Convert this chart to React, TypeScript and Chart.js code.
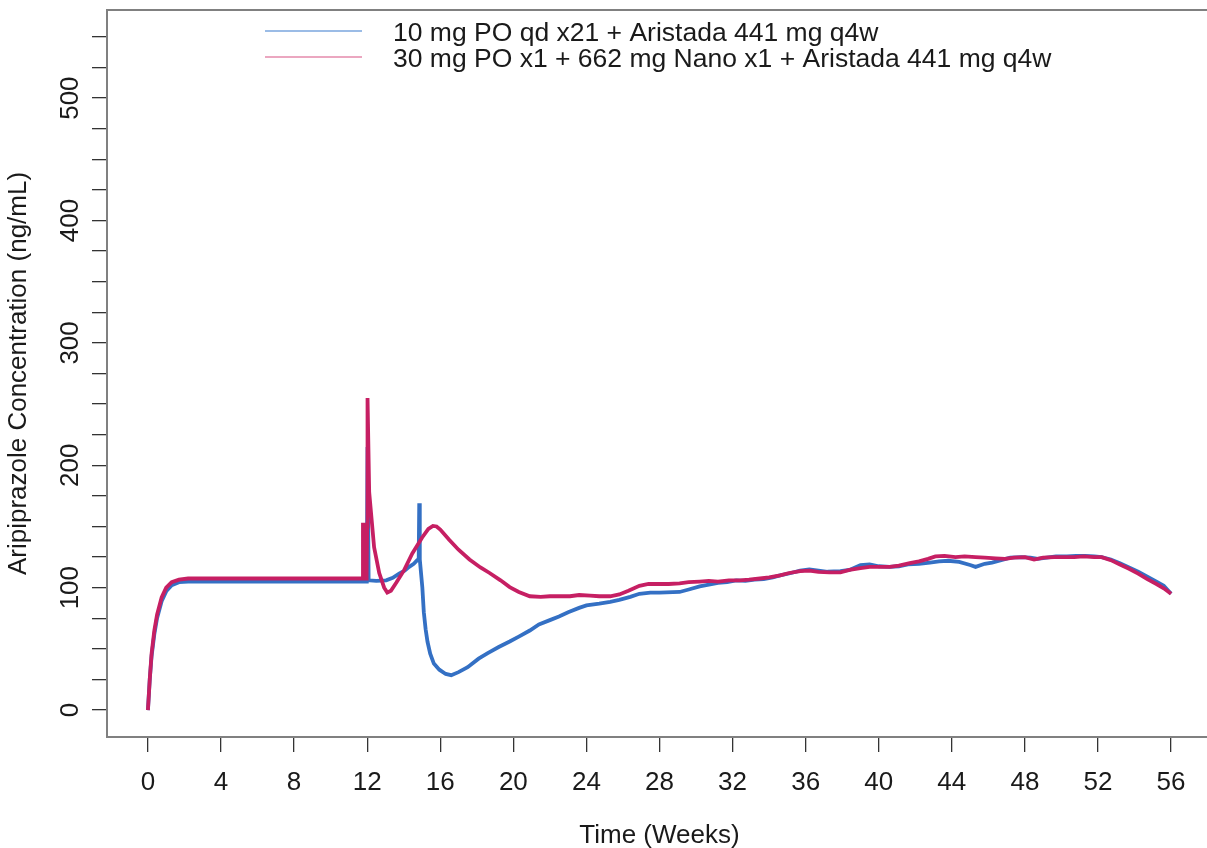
import React, { useEffect, useRef } from 'react';
import { Chart, registerables } from 'chart.js';

Chart.register(...registerables);

// ---- Data (weeks / ng/mL) ----
const weeksBlue = [
  0, 0.1, 0.2, 0.35, 0.5, 0.75, 1.0, 1.3, 1.7, 2.2, 4, 8, 11.98, 12.02, 12.08, 12.5, 13.04, 13.4, 13.75, 14.05,
  14.3, 14.55, 14.74, 14.82, 14.85, 14.88, 15.02, 15.1, 15.2, 15.3, 15.45, 15.65, 15.95, 16.3, 16.6, 17.0,
  17.5, 18.1, 18.6, 19.2, 19.8, 20.3, 20.9, 21.4, 22.0, 22.5, 23.0, 23.6, 24.0, 24.7, 25.3, 25.8, 26.4, 26.9,
  27.5, 28.0, 29.1, 29.6, 30.2, 30.7, 31.2, 31.7, 32.2, 32.7, 33.2, 33.7, 34.2, 34.6, 35.2, 35.7, 36.2,
  36.7, 37.2, 37.9, 38.4, 39.0, 39.5, 40.0, 40.6, 41.1, 41.6, 42.2, 42.8, 43.3, 43.8, 44.4, 45.0, 45.3,
  45.8, 46.2, 46.7, 47.2, 47.8, 48.3, 48.7, 49.2, 49.7, 50.3, 50.8, 51.3, 51.8, 52.2, 52.7, 53.2, 53.7,
  54.2, 54.7, 55.2, 55.6, 56.0,
];
const concBlue = [
  0, 25, 44, 62, 75, 89, 97, 102, 104.5, 105, 105, 105, 105, 215, 106, 105.5, 106, 108, 111.5, 114,
  117, 119.5, 122.5, 123.5, 169, 123, 100, 80, 66, 56, 46, 38, 33, 29.5, 28.5, 31,
  35, 42, 46.5, 51.5, 56, 60, 65, 70, 73.5, 76.5, 80, 83.5, 85.5, 87, 88.5, 90, 92.5, 95,
  96, 96, 96.5, 98.5, 101, 102.5, 104, 104.5, 106, 105.5, 106.5, 107, 108.5, 110, 112, 114, 115,
  114, 113, 113.5, 114.5, 118.5, 119, 117.5, 117, 117.5, 119, 119.5, 120.5, 121.5, 122, 121, 118.5, 117,
  119.5, 120.5, 122.5, 124.5, 125, 124.5, 123.5, 124.5, 125.5, 125.5, 126, 126, 125.5, 125, 123, 120, 116.5,
  113, 109, 105, 101.5, 95,
];

const weeksRed = [
  0, 0.1, 0.2, 0.35, 0.5, 0.75, 1.0, 1.3, 1.7, 2.2, 4, 8, 11.75, 11.77, 11.79, 11.82, 11.84, 11.87, 11.89,
  11.92, 11.94, 11.96, 11.98, 12.0, 12.02, 12.11, 12.38, 12.66, 12.93, 13.1, 13.3, 13.59, 14.03, 14.47,
  15.01, 15.35, 15.6, 15.8, 16.0, 16.5, 17.0, 17.6, 18.2, 18.7, 19.3, 19.8, 20.3, 20.9, 21.5, 22.0, 22.6,
  23.1, 23.6, 24.2, 24.7, 25.3, 25.8, 26.3, 26.9, 27.4, 28.0, 28.5, 29.1, 29.6, 30.2, 30.7, 31.2, 31.8,
  32.4, 32.9, 33.5, 34.0, 34.6, 35.1, 35.7, 36.2, 36.7, 37.3, 37.9, 38.4, 39.0, 39.5, 40.0, 40.6, 41.1,
  41.7, 42.2, 42.7, 43.1, 43.6, 44.2, 44.7, 45.3, 45.8, 46.4, 46.9, 47.4, 48.0, 48.5, 49.0, 49.6, 50.1,
  50.7, 51.2, 51.8, 52.2, 52.7, 53.2, 53.7, 54.2, 54.7, 55.2, 55.6, 56.0,
];
const concRed = [
  0, 25, 46, 65, 78, 92, 100, 104.5, 106.5, 107.5, 107.5, 107.5, 107.5, 153, 107.5, 153, 107.5, 153, 107.5,
  153, 107.5, 153, 110, 150, 255, 178, 133, 112, 100, 96, 97.5, 104, 114.5, 128,
  141, 148, 150.5, 150, 147.5, 139, 131, 123, 116.5, 112, 106, 100.5, 96.5, 93, 92.5, 93, 93,
  93, 94, 93.5, 93, 93, 94.5, 97.5, 101.5, 103, 103, 103, 103.5, 104.5, 105, 105.5, 105, 106,
  106, 106.5, 107.5, 108.5, 110, 112, 113.5, 114, 113, 112.5, 112.5, 114.5, 116, 117, 117, 117, 118,
  120, 121.5, 123.5, 125.5, 126, 125, 125.5, 125, 124.5, 124, 123.5, 124.5, 125, 123, 124.5, 125, 125,
  125, 125.5, 125, 125, 122.5, 119, 115.5, 111.5, 107, 103, 99.5, 95,
];

const seriesLabels = [
  '10 mg PO qd x21 + Aristada 441 mg q4w',
  '30 mg PO x1 + 662 mg Nano x1 + Aristada 441 mg q4w',
];
const seriesColors = ['#3470c4', '#c61f63'];
const legendColors = ['#7aa6de', '#e58aab'];
const xTickStep = 4;
const yTickStep = 25;
const yLabelValues = [0, 100, 200, 300, 400, 500];
const xTitle = 'Time (Weeks)';
const yTitle = 'Aripiprazole Concentration (ng/mL)';

const FONT = '"Liberation Sans", Arial, sans-serif';
const FS = 26;
const TEXT = '#1a1a1a';

export default function App() {
  const ref = useRef<HTMLCanvasElement | null>(null);

  useEffect(() => {
    const canvas = ref.current;
    if (!canvas) return;

    const boxAndLabels = {
      id: 'boxAndLabels',
      afterDraw(chart: any) {
        const { ctx, chartArea } = chart;
        const ys = chart.scales.y;
        ctx.save();
        // plot box
        ctx.strokeStyle = '#808080';
        ctx.lineWidth = 2;
        ctx.strokeRect(chartArea.left, chartArea.top, chartArea.right - chartArea.left, chartArea.bottom - chartArea.top);
        // rotated y tick labels
        ctx.fillStyle = TEXT;
        ctx.font = `${FS}px ${FONT}`;
        ctx.textAlign = 'center';
        ctx.textBaseline = 'middle';
        for (const v of yLabelValues) {
          const py = ys.getPixelForValue(v);
          ctx.save();
          ctx.translate(71, py);
          ctx.rotate(-Math.PI / 2);
          ctx.fillText(String(v), 0, 0);
          ctx.restore();
        }
        // legend
        const rows = [31, 57];
        ctx.font = `26.5px ${FONT}`;
        chart.data.datasets.forEach((ds: any, i: number) => {
          ctx.strokeStyle = legendColors[i];
          ctx.lineWidth = 1.6;
          ctx.beginPath();
          ctx.moveTo(265, rows[i]);
          ctx.lineTo(362, rows[i]);
          ctx.stroke();
          ctx.fillStyle = TEXT;
          ctx.textAlign = 'left';
          ctx.textBaseline = 'middle';
          ctx.fillText(ds.label, 393, rows[i] + 3);
        });
        ctx.restore();
      },
    };

    const chart = new Chart(canvas, {
      type: 'line',
      data: {
        datasets: [
          {
            label: seriesLabels[0],
            data: weeksBlue.map((w, i) => ({ x: w, y: concBlue[i] })),
            borderColor: seriesColors[0],
            backgroundColor: seriesColors[0],
            borderWidth: 3.8,
            pointRadius: 0,
            tension: 0,
            order: 1,
          },
          {
            label: seriesLabels[1],
            data: weeksRed.map((w, i) => ({ x: w, y: concRed[i] })),
            borderColor: seriesColors[1],
            backgroundColor: seriesColors[1],
            borderWidth: 3.8,
            pointRadius: 0,
            tension: 0,
            order: 0,
          },
        ],
      },
      options: {
        animation: false,
        responsive: false,
        devicePixelRatio: 1,
        layout: { padding: { top: 10, right: 2, left: 0, bottom: 0 } },
        plugins: { legend: { display: false }, tooltip: { enabled: false } },
        scales: {
          x: {
            type: 'linear',
            min: -2.24,
            max: 58.24,
            afterFit: (s: any) => { s.height = 111; },
            border: { display: false },
            grid: { drawOnChartArea: false, drawTicks: true, tickLength: 15, color: '#333', lineWidth: 1.3 },
            ticks: { stepSize: xTickStep, includeBounds: false, autoSkip: false, maxRotation: 0, color: TEXT, padding: 15, font: { family: FONT, size: FS } },
            title: { display: true, text: xTitle, color: TEXT, padding: { top: 0, bottom: -3 }, font: { family: FONT, size: FS } },
          },
          y: {
            type: 'linear',
            min: -22,
            max: 572,
            afterFit: (s: any) => { s.width = 107; },
            border: { display: false },
            grid: { drawOnChartArea: false, drawTicks: true, tickLength: 15, color: '#333', lineWidth: 1.3 },
            ticks: { stepSize: yTickStep, includeBounds: false, display: false },
            title: { display: true, text: yTitle, color: TEXT, padding: { top: 3, bottom: 0 }, font: { family: FONT, size: FS } },
          },
        },
      },
      plugins: [boxAndLabels],
    });
    return () => chart.destroy();
  }, []);

  return (
    <div style={{ position: 'fixed', left: 0, top: 0, width: 1207, height: 848, overflow: 'hidden', background: '#fff' }}>
      <canvas ref={ref} width={1214} height={848} style={{ display: 'block' }} />
    </div>
  );
}
